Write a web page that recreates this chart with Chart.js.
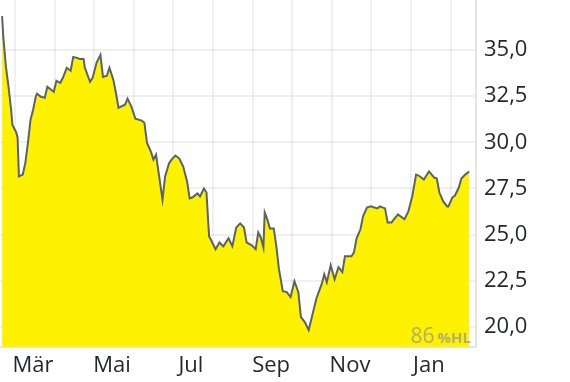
<!DOCTYPE html>
<html>
<head>
<meta charset="utf-8">
<script src="https://cdn.jsdelivr.net/npm/chart.js@4.4.0/dist/chart.umd.min.js"></script>
<style>
html, body { margin: 0; padding: 0; background: #fff; }
#wrap { width: 570px; height: 382px; }
</style>
</head>
<body>
<div id="wrap"><canvas id="chart"></canvas></div>
<script>
// closing prices
var dates = [
    '2023-02-19', '2023-02-20', '2023-02-22', '2023-02-24', '2023-02-26', '2023-02-27',
    '2023-03-02', '2023-03-03', '2023-03-04', '2023-03-07', '2023-03-09', '2023-03-11',
    '2023-03-13', '2023-03-15', '2023-03-17', '2023-03-18', '2023-03-21', '2023-03-24',
    '2023-03-26', '2023-03-29', '2023-03-31', '2023-04-02', '2023-04-05', '2023-04-07',
    '2023-04-10', '2023-04-13', '2023-04-15', '2023-04-18', '2023-04-20', '2023-04-23',
    '2023-04-24', '2023-04-28', '2023-04-30', '2023-05-03', '2023-05-06', '2023-05-08',
    '2023-05-11', '2023-05-13', '2023-05-16', '2023-05-18', '2023-05-20', '2023-05-25',
    '2023-05-27', '2023-05-30', '2023-06-02', '2023-06-07', '2023-06-09', '2023-06-11',
    '2023-06-14', '2023-06-16', '2023-06-18', '2023-06-20', '2023-06-23', '2023-06-25',
    '2023-06-28', '2023-06-30', '2023-07-03', '2023-07-06', '2023-07-09', '2023-07-12',
    '2023-07-14', '2023-07-16', '2023-07-20', '2023-07-22', '2023-07-25', '2023-07-27',
    '2023-07-29', '2023-07-31', '2023-08-03', '2023-08-06', '2023-08-09', '2023-08-13',
    '2023-08-16', '2023-08-19', '2023-08-22', '2023-08-25', '2023-08-27', '2023-08-31',
    '2023-09-03', '2023-09-05', '2023-09-07', '2023-09-09', '2023-09-10', '2023-09-12',
    '2023-09-14', '2023-09-17', '2023-09-19', '2023-09-21', '2023-09-24', '2023-09-27',
    '2023-09-30', '2023-10-03', '2023-10-06', '2023-10-08', '2023-10-11', '2023-10-14',
    '2023-10-17', '2023-10-20', '2023-10-22', '2023-10-24', '2023-10-26', '2023-10-28',
    '2023-10-31', '2023-11-03', '2023-11-06', '2023-11-09', '2023-11-11', '2023-11-16',
    '2023-11-18', '2023-11-20', '2023-11-23', '2023-11-25', '2023-11-28', '2023-12-01',
    '2023-12-06', '2023-12-08', '2023-12-12', '2023-12-14', '2023-12-17', '2023-12-22',
    '2023-12-27', '2023-12-30', '2024-01-02', '2024-01-05', '2024-01-07', '2024-01-11',
    '2024-01-15', '2024-01-19', '2024-01-21', '2024-01-23', '2024-01-26', '2024-01-29',
    '2024-01-30', '2024-02-02', '2024-02-04', '2024-02-07', '2024-02-09', '2024-02-12',
    '2024-02-15'
];
var prices = [
    36.83, 35.65, 34.08, 33.00, 31.76, 30.95,
    30.52, 30.25, 28.15, 28.25, 28.90, 29.98,
    31.22, 31.76, 32.46, 32.63, 32.46, 32.41,
    33.00, 32.84, 32.73, 33.33, 33.22, 33.49,
    34.03, 33.87, 34.62, 34.57, 34.51, 34.51,
    34.03, 33.27, 33.49, 34.30, 34.73, 33.54,
    33.60, 34.03, 33.38, 32.68, 31.87, 32.03,
    32.36, 31.92, 31.28, 31.17, 31.06, 29.98,
    29.50, 29.06, 29.33, 28.36, 26.90, 28.15,
    28.85, 29.06, 29.28, 29.12, 28.69, 27.88,
    26.96, 27.01, 27.23, 27.07, 27.50, 27.28,
    24.91, 24.64, 24.21, 24.58, 24.37, 24.80,
    24.37, 25.39, 25.61, 25.39, 24.58, 24.42,
    24.21, 25.12, 24.85, 24.31, 26.20, 25.83,
    25.34, 25.34, 24.37, 23.13, 21.94, 21.89,
    21.62, 22.48, 21.89, 20.54, 20.27, 19.84,
    20.70, 21.56, 21.94, 22.32, 22.86, 22.43,
    23.34, 22.59, 23.24, 22.97, 23.83, 23.83,
    24.04, 24.80, 25.29, 25.99, 26.47, 26.53,
    26.42, 26.53, 26.42, 25.66, 25.66, 26.10,
    25.83, 26.26, 27.07, 28.25, 28.20, 27.98,
    28.42, 28.09, 28.04, 27.28, 26.80, 26.53,
    26.53, 27.01, 27.12, 27.55, 28.04, 28.25,
    28.42
];
var monthNames = ['Jan', 'Feb', 'Mär', 'Apr', 'Mai', 'Jun', 'Jul', 'Aug', 'Sep', 'Okt', 'Nov', 'Dez'];
var labelledMonths = [2, 4, 6, 8, 10, 0];
var yTicks = [20, 22.5, 25, 27.5, 30, 32.5, 35];
var perfValue = '86';
var perfUnit = '%HL';

var origin = Date.UTC(2023, 2, 1);
var dayOf = function (s) {
    var p = s.split('-');
    return (Date.UTC(+p[0], +p[1] - 1, +p[2]) - origin) / 86400000;
};
var points = dates.map(function (d, i) {
    return { x: dayOf(d), y: prices[i] };
});
var monthStarts = [];
for (var k = 0; k < 12; k++) {
    monthStarts.push((Date.UTC(2023, 2 + k, 1) - origin) / 86400000);
}

var fontFamily = "'Open Sans', sans-serif";
var gridColor = 'rgba(0,0,0,0.06)';

// the scales should not reserve room for half labels at the edges
var noPadding = function (scale) {
    scale.paddingTop = 0;
    scale.paddingBottom = 0;
    scale.paddingLeft = 0;
    scale.paddingRight = 0;
};

var perfLabel = {
    id: 'perfLabel',
    afterDatasetsDraw: function (chart) {
        var ctx = chart.ctx;
        var a = chart.chartArea;
        ctx.save();
        ctx.fillStyle = 'rgba(150,150,150,0.75)';
        ctx.textBaseline = 'alphabetic';
        ctx.textAlign = 'right';
        ctx.font = 'bold 15px ' + fontFamily;
        var uw = ctx.measureText(perfUnit).width;
        ctx.fillText(perfUnit, a.right - 5, a.bottom - 4);
        ctx.font = '21px ' + fontFamily;
        ctx.fillText(perfValue, a.right - 8 - uw, a.bottom - 4);
        ctx.restore();
    }
};

new Chart(document.getElementById('chart').getContext('2d'), {
    type: 'line',
    data: {
        datasets: [{
            data: points,
            borderColor: '#5a626b',
            borderWidth: 2,
            backgroundColor: '#fff200',
            fill: 'start',
            tension: 0,
            pointRadius: 0
        }]
    },
    options: {
        responsive: true,
        maintainAspectRatio: false,
        animation: false,
        devicePixelRatio: 1,
        layout: { padding: 0 },
        plugins: {
            legend: { display: false },
            tooltip: { enabled: false }
        },
        scales: {
            x: {
                type: 'linear',
                min: -11.6,
                max: 356.3,
                z: 1,
                afterBuildTicks: function (scale) {
                    scale.ticks = monthStarts.map(function (v) { return { value: v }; });
                },
                afterFit: function (scale) {
                    scale.height = 35;
                    noPadding(scale);
                },
                grid: { color: gridColor, lineWidth: 2, drawTicks: false },
                border: { display: true, color: '#e4e4e4', width: 2 },
                ticks: {
                    autoSkip: false,
                    maxRotation: 0,
                    padding: 6,
                    labelOffset: 18,
                    color: '#1f272d',
                    font: { family: fontFamily, size: 22 },
                    callback: function (value, index) {
                        var m = (2 + index) % 12;
                        return labelledMonths.indexOf(m) >= 0 ? monthNames[m] : '';
                    }
                }
            },
            y: {
                position: 'right',
                min: 18.92,
                max: 37.70,
                z: 1,
                afterBuildTicks: function (scale) {
                    scale.ticks = yTicks.map(function (v) { return { value: v }; });
                },
                afterFit: function (scale) {
                    scale.width = 94;
                    noPadding(scale);
                },
                grid: { color: gridColor, lineWidth: 2, drawTicks: false },
                border: { display: true, color: '#e4e4e4', width: 2 },
                ticks: {
                    padding: 8,
                    color: '#1f272d',
                    font: { family: fontFamily, size: 22 },
                    callback: function (value) {
                        return value.toFixed(1).replace('.', ',');
                    }
                }
            }
        }
    },
    plugins: [perfLabel]
});
</script>
</body>
</html>
